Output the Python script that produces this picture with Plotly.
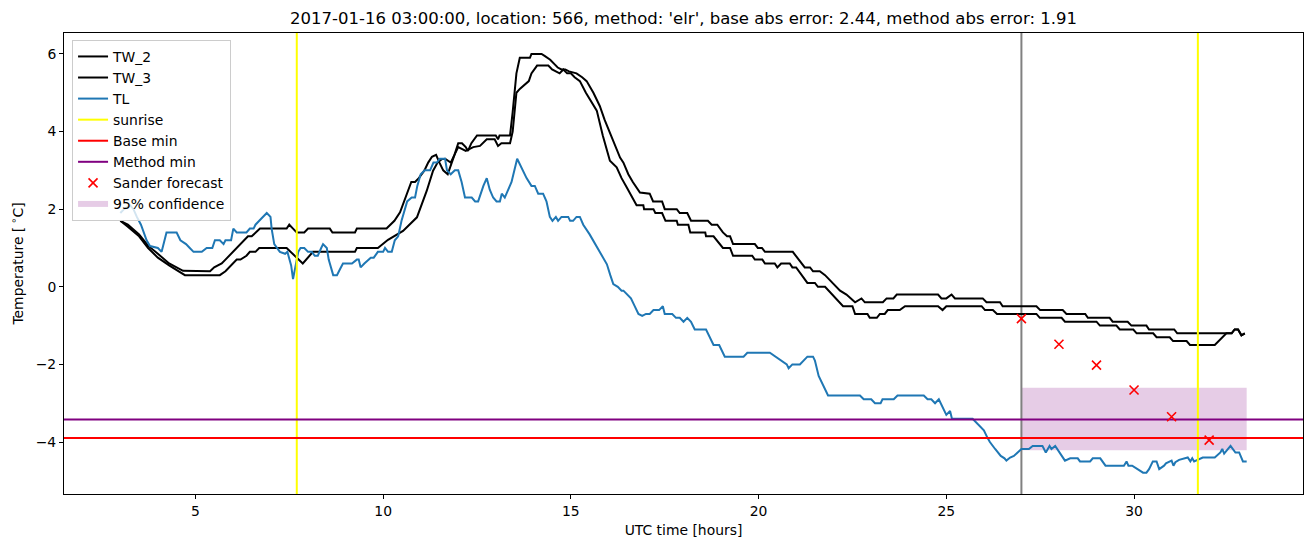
import plotly.graph_objects as go

# ---------------- data ----------------
tw2_x = [3.0, 3.2, 3.5, 3.74, 4.0, 4.3, 4.67, 5.39, 5.5, 5.7, 5.8, 6.0, 6.1, 6.2, 6.3, 6.4, 6.5, 6.6, 6.72,
         7.43, 7.5, 7.6, 7.7, 7.9, 8.0, 8.58, 8.65, 9.25, 9.3, 10.09, 10.2, 10.3, 10.45, 10.6, 10.75, 10.85,
         10.95, 11.1, 11.2, 11.3, 11.41, 11.5, 11.6, 11.72, 11.8, 11.9, 12.0, 12.1, 12.2, 12.26, 12.35, 12.5, 13.0,
         13.06, 13.1, 13.38, 13.45, 13.55, 13.64, 13.91, 13.95, 14.22, 14.3, 14.45, 14.55, 14.65, 14.75, 14.85,
         14.95, 15.15, 15.3, 15.42, 15.6, 15.77, 15.9, 16.05, 16.2, 16.31, 16.4, 16.53, 16.65, 16.75, 16.84,
         17.1, 17.19, 17.43, 17.5, 17.82, 17.9, 18.1, 18.2, 18.65, 18.75, 18.9, 19.05, 19.16, 19.24, 19.32,
         19.9, 19.98, 20.09, 20.17, 20.91, 21.23, 21.37, 21.45, 21.63, 21.77, 22.17, 22.34, 22.57, 22.74, 22.83,
         23.31, 23.41, 23.59, 23.68, 24.78, 24.87, 25.0, 25.14, 25.23, 25.97, 26.07, 26.43, 26.5, 27.4, 27.5,
         28.1, 28.2, 28.7, 28.77, 29.35, 29.43, 29.83, 29.93, 30.33, 30.4, 31.07, 31.15, 32.6, 32.68, 32.77,
         32.86, 32.95]
tw2_y = [1.7, 1.6, 1.35, 1.06, 0.85, 0.6, 0.41, 0.4, 0.5, 0.6, 0.7, 0.9, 1.0, 1.1, 1.2, 1.3, 1.3, 1.4, 1.5,
         1.5, 1.6, 1.5, 1.4, 1.4, 1.5, 1.5, 1.4, 1.4, 1.5, 1.5, 1.6, 1.7, 1.92, 2.3, 2.7, 2.7,
         2.8, 3.0, 3.2, 3.35, 3.4, 3.2, 3.0, 2.9, 3.1, 3.4, 3.7, 3.7, 3.6, 3.5, 3.7, 3.9, 3.9,
         3.8, 3.9, 3.9, 4.5, 5.5, 5.9, 5.9, 6.0, 6.0, 5.95, 5.85, 5.75, 5.65, 5.6, 5.6,
         5.55, 5.5, 5.4, 5.3, 5.0, 4.66, 4.3, 3.95, 3.6, 3.33, 3.2, 2.9, 2.7, 2.55, 2.43,
         2.4, 2.2, 2.2, 2.0, 2.0, 1.9, 1.9, 1.7, 1.7, 1.6, 1.6, 1.4, 1.3, 1.3, 1.1,
         1.1, 1.0, 1.0, 0.9, 0.9, 0.5, 0.5, 0.4, 0.4, 0.3, -0.1, -0.2, -0.4, -0.3, -0.4,
         -0.4, -0.3, -0.3, -0.2, -0.2, -0.3, -0.3, -0.2, -0.3, -0.3, -0.4, -0.4, -0.5, -0.5, -0.6,
         -0.6, -0.7, -0.7, -0.8, -0.8, -0.9, -0.9, -1.0, -1.0, -1.1, -1.1, -1.2, -1.2, -1.1, -1.1,
         -1.25, -1.2]

tw3_x = [3.0, 3.2, 3.5, 3.74, 4.0, 4.3, 4.72, 5.65, 5.8, 5.9, 6.0, 6.1, 6.2, 6.36, 6.45, 6.6, 6.7, 7.43,
         7.86, 8.13, 8.58, 8.65, 9.25, 9.3, 9.86, 10.13, 10.53, 10.9, 11.16, 11.33, 11.45, 11.56, 11.65, 11.8,
         12.0, 12.2, 12.4, 12.58, 12.76, 12.97, 13.06, 13.15, 13.38, 13.45, 13.55, 13.64, 13.75, 13.88, 13.95,
         14.08, 14.1, 14.4, 14.5, 14.7, 14.8, 14.9, 15.0, 15.1, 15.24, 15.4, 15.69, 15.85, 16.04, 16.22, 16.35,
         16.49, 16.6, 16.71, 16.75, 16.93, 16.95, 17.2, 17.25, 17.43, 17.52, 17.82, 17.85, 18.13, 18.18, 18.58,
         18.6, 18.8, 19.05, 19.24, 19.32, 19.83, 19.9, 20.1, 20.17, 20.43, 20.5, 20.6, 20.83, 20.9, 21.0,
         21.3, 21.5, 21.58, 21.77, 22.25, 22.5, 22.57, 22.9, 22.96, 23.15, 23.23, 23.36, 23.44, 23.76, 23.9,
         24.78, 24.9, 25.0, 25.94, 26.03, 26.24, 26.35, 27.4, 27.49, 28.07, 28.16, 29.0, 29.09, 29.53, 29.62,
         29.98, 30.07, 30.51, 30.6, 30.95, 31.04, 31.4, 31.49, 32.15, 32.46, 32.6, 32.68, 32.77, 32.86, 32.95]
tw3_y = [1.7, 1.55, 1.3, 1.0, 0.75, 0.55, 0.3, 0.3, 0.4, 0.5, 0.6, 0.7, 0.7, 0.8, 0.9, 0.9, 1.0, 1.0,
         0.6, 0.9, 0.9, 0.9, 0.9, 1.0, 1.0, 1.21, 1.44, 1.79, 2.47, 2.99, 3.2, 3.29, 3.3, 3.2,
         3.6, 3.5, 3.6, 3.63, 3.8, 3.8, 3.63, 3.7, 3.7, 4.0, 5.0, 5.1, 5.2, 5.3, 5.5,
         5.65, 5.7, 5.7, 5.6, 5.5, 5.6, 5.5, 5.5, 5.4, 5.3, 5.0, 4.54, 3.9, 3.25, 3.08, 2.8,
         2.56, 2.35, 2.17, 2.1, 2.1, 2.0, 2.0, 1.9, 1.9, 1.7, 1.7, 1.6, 1.6, 1.4, 1.4,
         1.3, 1.3, 1.0, 1.0, 0.8, 0.8, 0.7, 0.7, 0.6, 0.6, 0.5, 0.6, 0.6, 0.5, 0.5,
         0.1, 0.1, 0.0, 0.0, -0.5, -0.5, -0.7, -0.7, -0.8, -0.8, -0.7, -0.7, -0.6, -0.6, -0.5,
         -0.5, -0.6, -0.5, -0.5, -0.6, -0.6, -0.7, -0.7, -0.8, -0.8, -0.9, -0.9, -1.0, -1.0, -1.1,
         -1.1, -1.2, -1.2, -1.3, -1.3, -1.4, -1.4, -1.5, -1.5, -1.2, -1.2, -1.1, -1.1, -1.25, -1.2]

tl_x = [3.0, 3.1, 3.26, 3.35, 3.44, 3.55, 3.7, 3.79, 4.0, 4.1, 4.23, 4.5, 4.6, 4.75, 4.85, 4.95, 5.17, 5.3,
        5.45, 5.52, 5.65, 5.75, 5.8, 5.95, 6.01, 6.1, 6.36, 6.45, 6.55, 6.6, 6.7, 6.8, 6.9, 7.0, 7.03, 7.1,
        7.25, 7.39, 7.45, 7.55, 7.6, 7.66, 7.74, 7.8, 7.9, 8.0, 8.1, 8.18, 8.26, 8.35, 8.4, 8.5, 8.55, 8.67,
        8.77, 8.85, 8.93, 9.17, 9.3, 9.35, 9.4, 9.5, 9.67, 9.75, 9.86, 10.0, 10.05, 10.13, 10.23, 10.31, 10.4,
        10.49, 10.64, 10.76, 10.85, 10.91, 11.0, 11.11, 11.25, 11.34, 11.43, 11.51, 11.65, 11.7, 11.8, 11.91,
        12.0, 12.09, 12.18, 12.36, 12.45, 12.53, 12.62, 12.67, 12.76, 12.84, 12.93, 13.02, 13.11, 13.16, 13.24,
        13.42, 13.57, 13.73, 13.82, 13.95, 14.04, 14.13, 14.26, 14.35, 14.44, 14.51, 14.6, 14.66, 14.75, 14.93,
        14.98, 15.06, 15.15, 15.24, 15.33, 15.5, 15.7, 15.85, 15.96, 16.05, 16.13, 16.25, 16.35, 16.4, 16.5,
        16.6, 16.7, 16.8, 16.9, 17.0, 17.1, 17.2, 17.35, 17.45, 17.5, 17.6, 17.7, 17.8, 17.9, 18.0, 18.1,
        18.2, 18.3, 18.6, 18.7, 18.8, 18.95, 19.1, 19.6, 19.7, 20.3, 20.45, 20.6, 20.75, 20.8, 20.9, 21.1,
        21.2, 21.3, 21.45, 21.5, 21.6, 21.7, 21.8, 21.85, 22.7, 22.8, 23.0, 23.1, 23.25, 23.3, 23.6, 23.7,
        24.4, 24.5, 24.6, 24.7, 24.8, 24.9, 25.0, 25.1, 25.15, 25.7, 25.8, 25.9, 26.0, 26.1, 26.16, 26.3,
        26.45, 26.55, 26.6, 26.7, 26.8, 26.9, 27.0, 27.1, 27.2, 27.3, 27.4, 27.56, 27.65, 27.75, 27.8, 27.9,
        28.16, 28.3, 28.5, 28.56, 28.83, 28.9, 29.1, 29.15, 29.24, 29.73, 29.8, 29.85, 29.95, 30.24, 30.33,
        30.4, 30.5, 30.6, 30.67, 30.8, 30.85, 31.0, 31.05, 31.1, 31.2, 31.43, 31.5, 31.55, 31.6, 31.83,
        32.15, 32.3, 32.35, 32.4, 32.57, 32.7, 32.8, 32.9, 33.0]
tl_y = [1.9, 2.0, 2.1, 2.0, 1.8, 1.6, 1.2, 1.05, 1.0, 0.9, 1.4, 1.4, 1.2, 1.1, 1.0, 0.9, 0.9, 1.0,
        1.0, 1.2, 1.2, 1.1, 1.2, 1.2, 1.5, 1.4, 1.4, 1.5, 1.5, 1.6, 1.7, 1.8, 1.9, 1.8, 1.5, 1.1,
        0.9, 0.85, 0.9, 0.55, 0.2, 0.5, 0.9, 1.0, 1.0, 0.9, 0.9, 0.8, 0.8, 1.0, 1.1, 1.0, 0.7, 0.3,
        0.3, 0.45, 0.6, 0.6, 0.7, 0.7, 0.5, 0.6, 0.75, 0.75, 0.9, 0.9, 1.0, 0.9, 0.9, 1.2, 1.3,
        1.7, 2.2, 2.3, 2.3, 2.6, 2.9, 3.0, 3.0, 3.2, 3.2, 3.3, 3.3, 3.0, 2.9, 3.0,
        3.0, 2.7, 2.3, 2.3, 2.2, 2.2, 2.5, 2.6, 2.8, 2.5, 2.3, 2.2, 2.2, 2.4, 2.3,
        2.7, 3.3, 3.0, 2.8, 2.6, 2.6, 2.4, 2.4, 2.2, 1.8, 1.7, 1.8, 1.7, 1.8, 1.8,
        1.7, 1.7, 1.8, 1.8, 1.6, 1.35, 1.0, 0.75, 0.58, 0.3, 0.07, 0.0, -0.1, -0.1, -0.2,
        -0.3, -0.5, -0.7, -0.75, -0.7, -0.7, -0.6, -0.6, -0.5, -0.7, -0.7, -0.7, -0.8, -0.8, -0.9, -0.8,
        -0.9, -1.1, -1.1, -1.3, -1.5, -1.5, -1.8, -1.8, -1.7, -1.7, -1.8, -1.9, -2.0, -2.1, -2.0, -2.0,
        -1.9, -1.8, -1.8, -1.9, -2.3, -2.5, -2.7, -2.8, -2.8, -2.9, -2.9, -3.0, -3.0, -2.9, -2.9, -2.8,
        -2.8, -2.9, -2.9, -3.0, -2.9, -3.1, -3.3, -3.2, -3.4, -3.4, -3.5, -3.6, -3.7, -3.9, -4.0, -4.18,
        -4.36, -4.42, -4.48, -4.4, -4.36, -4.27, -4.18, -4.18, -4.18, -4.1, -4.1, -4.1, -4.27, -4.1, -4.18, -4.1,
        -4.48, -4.42, -4.42, -4.5, -4.5, -4.42, -4.42, -4.5, -4.61, -4.61, -4.5, -4.61, -4.61, -4.79, -4.79,
        -4.7, -4.5, -4.5, -4.7, -4.61, -4.55, -4.48, -4.61, -4.52, -4.46, -4.4, -4.5, -4.42, -4.5, -4.4,
        -4.4, -4.27, -4.18, -4.3, -4.1, -4.27, -4.27, -4.5, -4.5]

sunrise_hours = [7.7, 31.7]
forecast_time = 27.0
base_min = -3.9
method_min = -3.42

sander_x = [27, 28, 29, 30, 31, 32]
sander_y = [-0.82, -1.48, -2.02, -2.66, -3.35, -3.95]

conf_x = [27.0, 33.0]
conf_lo = [-4.21, -4.21]
conf_hi = [-2.6, -2.6]

x_range = [1.5, 34.5]
y_range = [-5.34, 6.54]
x_ticks = [5, 10, 15, 20, 25, 30]
y_ticks = [-4, -2, 0, 2, 4, 6]

title = "2017-01-16 03:00:00, location: 566, method: 'elr', base abs error: 2.44, method abs error: 1.91"

# ---------------- figure ----------------
FONT = "DejaVu Sans"
FS = 13.9
LW = 2.0
# the page body has an 8px default margin; size the figure so the plot lands where the reference has it
FIG_W, FIG_H = 1305, 539
fig = go.Figure()

# confidence band (drawn first -> underneath)
fig.add_trace(go.Scatter(
    x=conf_x + conf_x[::-1], y=conf_hi + conf_lo[::-1], fill="toself", mode="none",
    fillcolor="rgba(128,0,128,0.2)", name="95% confidence", legendrank=8, legendgroup="g8"))

# forecast-time vertical line (no legend)
fig.add_trace(go.Scatter(x=[forecast_time, forecast_time], y=y_range, mode="lines",
                         line=dict(color="#808080", width=LW), showlegend=False, hoverinfo="skip"))

fig.add_trace(go.Scatter(x=tw2_x, y=tw2_y, mode="lines", name="TW_2",
                         line=dict(color="black", width=LW), legendrank=1, legendgroup="g1"))
fig.add_trace(go.Scatter(x=tw3_x, y=tw3_y, mode="lines", name="TW_3",
                         line=dict(color="black", width=LW), legendrank=2, legendgroup="g2"))
fig.add_trace(go.Scatter(x=tl_x, y=tl_y, mode="lines", name="TL",
                         line=dict(color="#1f77b4", width=LW), legendrank=3, legendgroup="g3"))

sx, sy = [], []
for h in sunrise_hours:
    sx += [h, h, None]
    sy += [y_range[0], y_range[1], None]
fig.add_trace(go.Scatter(x=sx, y=sy, mode="lines", name="sunrise",
                         line=dict(color="yellow", width=LW), legendrank=4, legendgroup="g4"))
fig.add_trace(go.Scatter(x=x_range, y=[base_min, base_min], mode="lines", name="Base min",
                         line=dict(color="red", width=LW), legendrank=5, legendgroup="g5"))
fig.add_trace(go.Scatter(x=x_range, y=[method_min, method_min], mode="lines", name="Method min",
                         line=dict(color="purple", width=LW), legendrank=6, legendgroup="g6"))
fig.add_trace(go.Scatter(x=sander_x, y=sander_y, mode="markers", name="Sander forecast",
                         marker=dict(symbol="x-thin", size=9, color="red",
                                     line=dict(color="red", width=1.6)),
                         legendrank=7, legendgroup="g7"))

axis_common = dict(showline=True, mirror=True, linecolor="black", linewidth=1,
                   ticks="outside", ticklen=4, tickwidth=1, tickcolor="black",
                   showgrid=False, zeroline=False, automargin=False,
                   tickfont=dict(family=FONT, size=FS, color="black"))

fig.update_layout(
    width=FIG_W, height=FIG_H,
    margin=dict(l=56, r=10, t=25, b=53, autoexpand=False),
    paper_bgcolor="white", plot_bgcolor="white",
    font=dict(family=FONT, size=FS, color="black"),
    title=dict(text=title, x=0.5, xref="paper", xanchor="center",
               y=1 - 10 / FIG_H, yref="container", yanchor="middle", automargin=False,
               font=dict(family=FONT, size=16.5, color="black")),
    showlegend=True,
    legend=dict(x=0.0065, y=0.985, xanchor="left", yanchor="top",
                bgcolor="rgba(255,255,255,0.8)", bordercolor="#cccccc", borderwidth=1,
                font=dict(family=FONT, size=FS, color="black"),
                traceorder="grouped", tracegroupgap=0, itemwidth=30),
    xaxis=dict(range=x_range, tickvals=x_ticks, ticktext=[str(t) for t in x_ticks],
               title=dict(text="UTC time [hours]", font=dict(family=FONT, size=FS), standoff=7),
               **axis_common),
    yaxis=dict(range=y_range, tickvals=y_ticks,
               ticktext=[("\u2212" + str(-t)) if t < 0 else str(t) for t in y_ticks],
               title=dict(text="Temperature [<sup> \u2218</sup>C]", font=dict(family=FONT, size=FS), standoff=9),
               **axis_common),
)

fig.write_html("out.html")
